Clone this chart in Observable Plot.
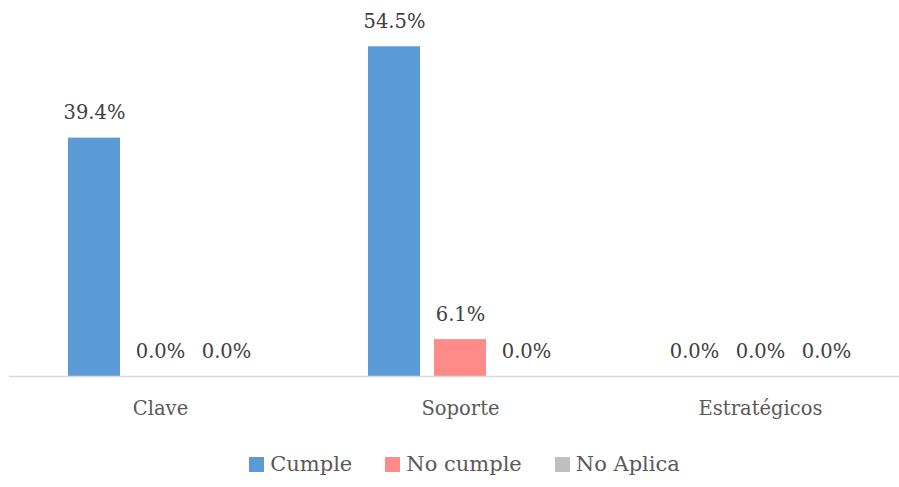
<!DOCTYPE html>
<html>
<head>
<meta charset="utf-8">
<script src="https://cdn.jsdelivr.net/npm/d3@7"></script>
<script src="https://cdn.jsdelivr.net/npm/@observablehq/plot@0.6"></script>
<style>
  body { margin: 0; background: #fff; font-family: "DejaVu Serif", serif; }
  #legend { display: flex; justify-content: center; gap: 33px; margin-top: 7px; padding-left: 30px; color: #595959; font-size: 21px; }
  #legend span.item { display: flex; align-items: center; }
  #legend span.sw { display: inline-block; width: 15px; height: 15px; margin-right: 6px; }
</style>
</head>
<body>
<div id="chart"></div>
<div id="legend"></div>
<script>
const categories = ["Clave", "Soporte", "Estratégicos"];
const series = ["Cumple", "No cumple", "No Aplica"];
const cumple = [39.4, 54.5, 0.0];
const noCumple = [0.0, 6.1, 0.0];
const noAplica = [0.0, 0.0, 0.0];
const colors = ["#5B9BD5", "#FF8A8A", "#BFBFBF"];

const values = [cumple, noCumple, noAplica];
const data = [];
categories.forEach((c, i) => {
  series.forEach((s, j) => data.push({category: c, series: s, value: values[j][i]}));
});

const chart = Plot.plot({
  width: 899,
  height: 445,
  marginLeft: 9,
  marginRight: -11,
  marginTop: 13,
  marginBottom: 69,
  style: {fontFamily: "DejaVu Serif, serif", background: "#fff"},
  fx: {domain: categories, paddingInner: 0.294, paddingOuter: 0.147, label: null},
  x: {domain: series, padding: 0.212, axis: null},
  y: {domain: [0, 60], axis: null},
  color: {domain: series, range: colors},
  marks: [
    Plot.barY(data, {fx: "category", x: "series", y: "value", fill: "series"}),
    Plot.ruleY([0], {stroke: "#d9d9d9", strokeWidth: 1.5, insetLeft: -45, insetRight: -45}),
    Plot.text(data, {fx: "category", x: "series", y: "value", text: d => d.value.toFixed(1) + "%",
      lineAnchor: "bottom", dy: -19, fill: "#404040", fontSize: 19.5}),
    Plot.axisFx({anchor: "bottom", tickSize: 0, tickPadding: 25, fontSize: 19.5, color: "#595959", label: null})
  ]
});
document.getElementById("chart").appendChild(chart);

const legend = document.getElementById("legend");
series.forEach((s, j) => {
  const item = document.createElement("span");
  item.className = "item";
  const sw = document.createElement("span");
  sw.className = "sw";
  sw.style.background = colors[j];
  item.appendChild(sw);
  item.appendChild(document.createTextNode(s));
  legend.appendChild(item);
});
</script>
</body>
</html>
